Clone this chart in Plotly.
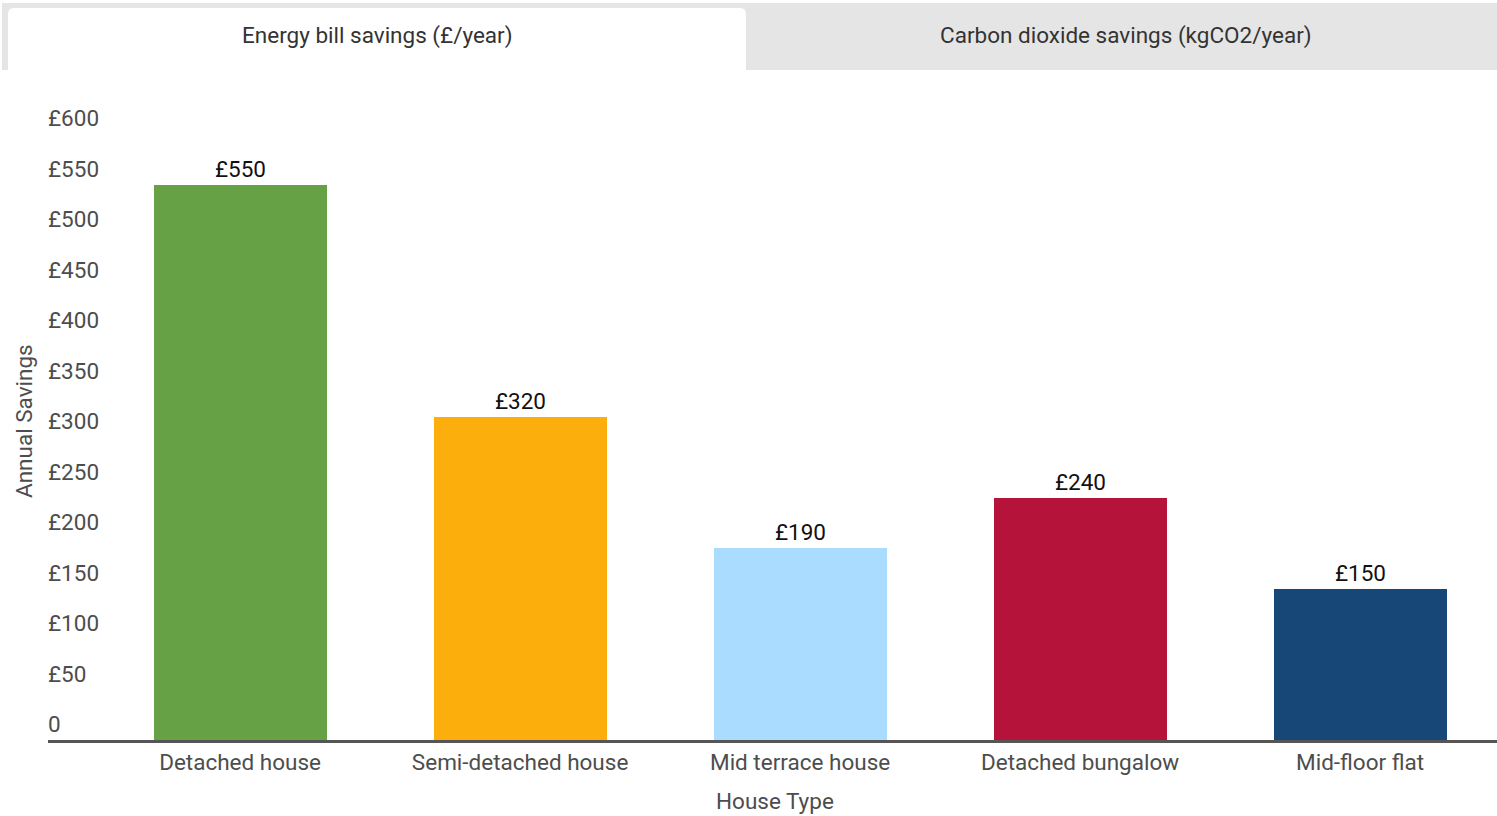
import plotly.graph_objects as go

categories = ["Detached house", "Semi-detached house", "Mid terrace house",
              "Detached bungalow", "Mid-floor flat"]
savings = [550, 320, 190, 240, 150]
bar_labels = ["£550", "£320", "£190", "£240", "£150"]
bar_colors = ["#67a146", "#fcaf0c", "#aadcff", "#b5133a", "#164777"]
y_tick_vals = [0, 50, 100, 150, 200, 250, 300, 350, 400, 450, 500, 550, 600]
y_tick_text = ["0", "£50", "£100", "£150", "£200", "£250", "£300", "£350",
               "£400", "£450", "£500", "£550", "£600"]
tab_labels = ["Energy bill savings (£/year)", "Carbon dioxide savings (kgCO2/year)"]

W, H = 1497, 816
ML, MR, MT, MB = 48, 0, 100, 76
PW, PH = W - ML - MR, H - MT - MB


def px(x):
    return (x - ML) / PW


def py(y):
    return 1 - (y - MT) / PH


FONT = "Roboto, 'Open Sans', sans-serif"

fig = go.Figure()
fig.add_trace(go.Bar(
    x=list(range(len(categories))), y=savings, width=0.618,
    marker=dict(color=bar_colors, line=dict(width=0)),
    text=bar_labels, textposition="outside", cliponaxis=False,
    textfont=dict(family=FONT, size=22.5, color="#111111"),
    hoverinfo="skip",
))

shapes = []
# tab bar background
shapes.append(dict(type="rect", xref="paper", yref="paper",
                   x0=px(2), x1=px(1497), y0=py(70), y1=py(3),
                   fillcolor="#e5e5e5", line=dict(width=0), layer="below"))
# active tab with rounded top corners
r = 6
x0, x1, y0, y1 = 8, 746, 8, 70
path = (f"M {px(x0)},{py(y1)} L {px(x0)},{py(y0 + r)} "
        f"Q {px(x0)},{py(y0)} {px(x0 + r)},{py(y0)} "
        f"L {px(x1 - r)},{py(y0)} Q {px(x1)},{py(y0)} {px(x1)},{py(y0 + r)} "
        f"L {px(x1)},{py(y1)} Z")
shapes.append(dict(type="path", xref="paper", yref="paper", path=path,
                   fillcolor="#ffffff", line=dict(width=0), layer="below"))

annotations = [
    dict(text=tab_labels[0], xref="paper", yref="paper", x=px(377), y=py(36),
         showarrow=False, xanchor="center", yanchor="middle",
         font=dict(family=FONT, size=22.5, color="#333333")),
    dict(text=tab_labels[1], xref="paper", yref="paper", x=px(1126), y=py(36),
         showarrow=False, xanchor="center", yanchor="middle",
         font=dict(family=FONT, size=22.5, color="#333333")),
    dict(text="Annual Savings", xref="paper", yref="paper", x=px(24), y=py(421),
         showarrow=False, xanchor="center", yanchor="middle", textangle=-90,
         font=dict(family=FONT, size=22.5, color="#4d4d4d")),
    dict(text="House Type", xref="paper", yref="paper", x=px(775), y=py(801),
         showarrow=False, xanchor="center", yanchor="middle",
         font=dict(family=FONT, size=22.5, color="#4d4d4d")),
]

fig.update_layout(
    width=W, height=H, autosize=False,
    margin=dict(l=ML, r=MR, t=MT, b=MB),
    paper_bgcolor="#ffffff", plot_bgcolor="#ffffff",
    showlegend=False, bargap=0,
    shapes=shapes, annotations=annotations,
    font=dict(family=FONT),
)
fig.update_xaxes(
    range=[-0.686, 4.489], tickvals=list(range(len(categories))),
    ticktext=categories, showgrid=False, zeroline=False,
    showline=True, linecolor="#555555", linewidth=3, ticks="",
    tickfont=dict(family=FONT, size=22.5, color="#4d4d4d"),
)
fig.update_yaxes(
    range=[0, 640 / 1.01], tickvals=y_tick_vals, ticktext=y_tick_text,
    showgrid=False, zeroline=False, showline=False, ticks="",
    ticklabelposition="inside top", ticklabelstandoff=-3,
    tickfont=dict(family=FONT, size=22.5, color="#4d4d4d"),
)

fig.write_html("out.html", config={"displayModeBar": False},
               post_script="document.body.style.margin='0';")
